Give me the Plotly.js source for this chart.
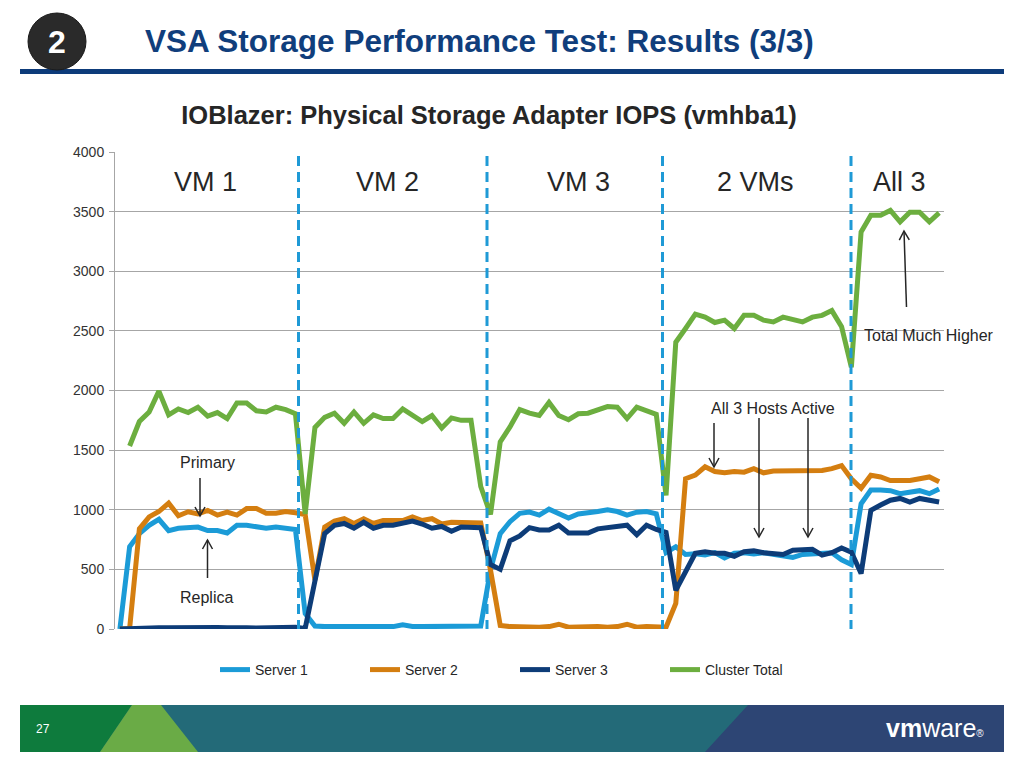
<!DOCTYPE html>
<html><head><meta charset="utf-8">
<script src="https://cdn.plot.ly/plotly-3.0.1.min.js"></script>
<style>html,body{margin:0;padding:0;background:#fff;} #chart{width:1024px;height:768px;}</style>
</head><body><div id="chart"></div>
<script>
// ---- data (IOPS per sample) ----
const seriesNames = ['Server 1', 'Server 2', 'Server 3', 'Cluster Total'];
const seriesColors = ['#1b9bd7', '#d47e10', '#0d3c78', '#6cae3f'];
const server1 = [0,690,800,870,920,825,845,845,855,825,825,805,870,870,855,845,855,850,835,130,
  25,20,20,20,18,20,20,22,20,35,22,20,22,20,20,22,25,25,495,800,
  900,970,980,955,1005,965,930,965,970,985,1000,985,955,980,985,965,640,690,625,630,
  620,640,595,635,640,630,640,630,620,600,625,630,635,640,580,540,1050,1165,1165,1160,
  1135,1150,1160,1135,1175];
const server2 = [0,5,840,940,985,1055,950,983,965,995,955,980,955,1010,1010,970,970,985,975,960,
  410,855,905,925,885,925,885,910,910,910,940,910,925,880,895,895,895,890,495,30,
  20,15,15,15,20,40,15,20,15,20,15,20,40,15,20,15,15,215,1260,1290,
  1360,1320,1310,1320,1315,1345,1310,1325,1325,1320,1325,1330,1330,1345,1370,1260,1180,1290,1275,1245,
  1245,1245,1260,1275,1235];
const server3 = [0,5,5,8,10,10,12,8,10,10,12,10,15,10,8,10,10,12,15,5,
  410,800,870,885,845,895,845,870,870,885,905,880,845,860,820,855,850,850,540,500,
  740,780,850,830,830,870,805,805,805,840,850,850,870,790,870,835,810,325,480,635,
  648,635,635,610,648,655,640,635,625,660,665,668,620,640,680,645,465,995,1040,1080,
  1095,1065,1095,1080,1065];
const clusterTotal = [null,1535,1740,1820,1995,1795,1845,1815,1860,1785,1815,1765,1895,1895,1830,1820,1860,1840,1805,965,
  1690,1775,1810,1725,1820,1725,1795,1765,1765,1845,1795,1740,1790,1685,1770,1750,1750,1195,960,1570,
  1695,1840,1810,1790,1900,1790,1755,1805,1810,1840,1865,1860,1765,1860,1835,1800,1120,2405,2520,2640,
  2615,2570,2590,2520,2630,2630,2590,2575,2615,2600,2575,2615,2630,2670,2535,2195,3330,3470,3470,3510,
  3415,3495,3495,3415,3490];
const yTicks = [0, 500, 1000, 1500, 2000, 2500, 3000, 3500, 4000];
const phaseLabels = ['VM 1', 'VM 2', 'VM 3', '2 VMs', 'All 3'];
const samples = server1.map((_, i) => i + 1);

// ---- geometry helpers (page pixels -> paper) ----
const W = 1024, H = 768, L = 115, R = 80, T = 152, B = 139;
const PW = W - L - R, PH = H - T - B;
const px = x => (x - L) / PW;
const py = y => (H - B - y) / PH;
const FONT = 'Liberation Sans, Arial, sans-serif';
const TXT = '#262626';

const traces = [server1, server2, server3, clusterTotal].map((vals, k) => ({
  x: samples, y: vals, type: 'scatter', mode: 'lines', name: seriesNames[k],
  line: {color: seriesColors[k], width: 5}, connectgaps: false, hoverinfo: 'skip'
}));

const shapes = [];
// header rule
shapes.push({type:'rect', xref:'paper', yref:'paper', x0:px(20), x1:px(1004), y0:py(69), y1:py(74),
  fillcolor:'#0d3b7a', line:{width:0}});
// badge circle
shapes.push({type:'circle', xref:'paper', yref:'paper', x0:px(28), x1:px(86), y0:py(13), y1:py(70),
  fillcolor:'#2a2a2a', line:{color:'#1a1a1a', width:1}});
// footer band
const poly = (pts, color) => shapes.push({type:'path', xref:'paper', yref:'paper',
  path: 'M' + pts.map(p => px(p[0]) + ',' + py(p[1])).join(' L') + ' Z', fillcolor: color, line:{width:0}});
poly([[20,705],[1004,705],[1004,752],[20,752]], '#236a78');
poly([[20,705],[132,705],[100,752],[20,752]], '#0e7b3d');
poly([[132,705],[161,705],[198,752],[100,752]], '#6aab46');
poly([[748,705],[1004,705],[1004,752],[705,752]], '#2d4574');
// dashed phase separators
[298.5, 487, 662.5, 851].forEach(x => shapes.push({type:'line', xref:'paper', yref:'paper',
  x0:px(x), x1:px(x), y0:py(156), y1:py(629), line:{color:'#1f9ad6', width:3, dash:'10px,6px'}}));
// arrows
function arrow(x1, y1, x2, y2) {
  shapes.push({type:'line', xref:'paper', yref:'paper', x0:px(x1), y0:py(y1), x1:px(x2), y1:py(y2),
    line:{color:TXT, width:1.5}});
  const dx = x2 - x1, dy = y2 - y1, len = Math.hypot(dx, dy);
  const ux = dx / len, uy = dy / len, hl = 9, hw = 5;
  const a = [x2 - ux*hl - uy*hw, y2 - uy*hl + ux*hw], b = [x2 - ux*hl + uy*hw, y2 - uy*hl - ux*hw];
  shapes.push({type:'path', xref:'paper', yref:'paper',
    path:`M${px(a[0])},${py(a[1])} L${px(x2)},${py(y2)} L${px(b[0])},${py(b[1])}`,
    line:{color:TXT, width:1.5}});
}
arrow(200, 478, 200, 516);
arrow(207.5, 578, 207.5, 540);
arrow(714, 423, 714, 467);
arrow(759, 418, 759, 537);
arrow(808, 418, 808, 537);
arrow(906.5, 307, 904, 231);

const annotations = [];
const ann = (text, x, y, size, opts) => annotations.push(Object.assign({text, xref:'paper', yref:'paper',
  x:px(x), y:py(y), showarrow:false, xanchor:'center', yanchor:'middle',
  font:{family:FONT, size, color:TXT}}, opts || {}));
[205, 387, 578, 755, 899].forEach((x, i) => ann(phaseLabels[i], x, 182, 27));
ann('Primary', 207, 463, 16);
ann('Replica', 206, 597, 16);
ann('All 3 Hosts Active', 773, 408, 16);
ann('Total Much Higher', 929, 335, 16);
ann('VSA Storage Performance Test: Results (3/3)', 143, 41, 31.5,
  {xanchor:'left', font:{family:FONT, size:31.5, color:'#103e7c', weight:'bold'}});
ann('2', 57, 42, 32, {font:{family:FONT, size:32, color:'#ffffff', weight:'bold'}});
ann('27', 43, 729, 12, {font:{family:FONT, size:12, color:'#ffffff'}});
ann('<b>vm</b>ware<span style="font-size:10px">®</span>', 935, 728, 25, {font:{family:FONT, size:25, color:'#ffffff'}});

const layout = {
  width: W, height: H, margin: {l: L, r: R, t: T, b: B, pad: 0},
  paper_bgcolor: '#ffffff', plot_bgcolor: '#ffffff',
  title: {text: 'IOBlazer: Physical Storage Adapter IOPS (vmhba1)', xref: 'container', yref: 'container',
    x: 489 / W, y: 1 - 115 / H, xanchor: 'center', yanchor: 'middle',
    font: {family: FONT, size: 25.5, color: TXT, weight: 'bold'}},
  xaxis: {range: [0.5, 85.5], showgrid: false, showticklabels: false, zeroline: false, showline: false,
    ticks: '', fixedrange: true},
  yaxis: {range: [0, 4000], tickvals: yTicks, ticktext: yTicks.map(String), showgrid: true,
    gridcolor: '#a6a6a6', gridwidth: 1, zeroline: false, showline: true, linecolor: '#a6a6a6', linewidth: 1,
    ticks: 'outside', ticklen: 5, tickcolor: '#a6a6a6', ticklabelstandoff: 2,
    tickfont: {family: FONT, size: 14, color: '#333333'}, fixedrange: true},
  showlegend: true,
  legend: {orientation: 'h', x: px(215), y: py(670), xanchor: 'left', yanchor: 'middle',
    font: {family: FONT, size: 14, color: TXT}, entrywidth: 105, entrywidthmode: 'pixels',
    itemclick: false, itemdoubleclick: false, bgcolor: 'rgba(0,0,0,0)'},
  shapes, annotations
};
Plotly.newPlot('chart', traces, layout, {displayModeBar: false, staticPlot: true});
</script></body></html>
